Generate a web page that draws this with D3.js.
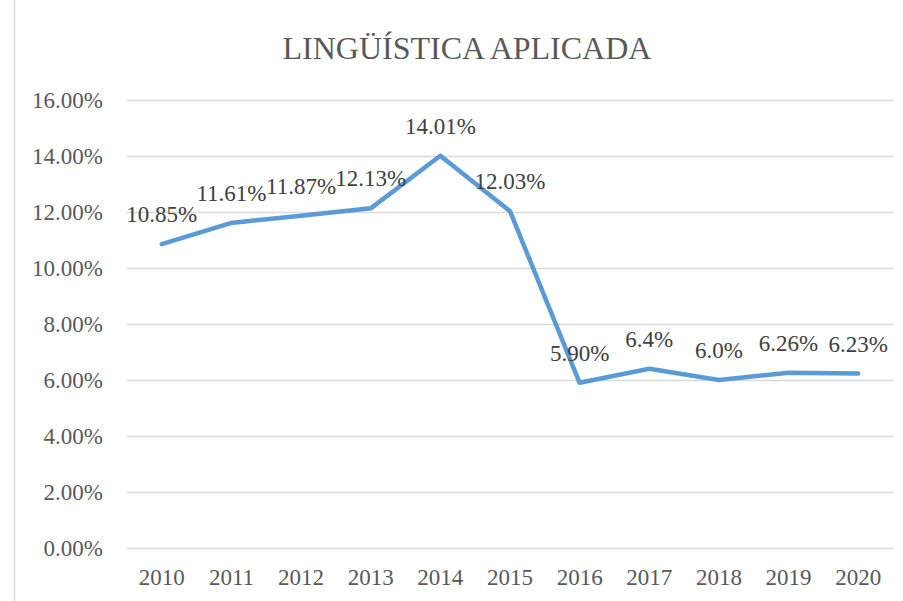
<!DOCTYPE html>
<html><head><meta charset="utf-8">
<script src="https://cdn.jsdelivr.net/npm/d3@7"></script>
<style>body{margin:0;background:#fff}svg{display:block}svg text{font-family:"Liberation Serif","Times New Roman",serif !important}</style>
</head><body>
<svg id="c" width="903" height="601"></svg>
<script>
const title = "LINGÜÍSTICA APLICADA";
const years = ["2010","2011","2012","2013","2014","2015","2016","2017","2018","2019","2020"];
const values = [10.85, 11.61, 11.87, 12.13, 14.01, 12.03, 5.90, 6.4, 6.0, 6.26, 6.23];
const labels = ["10.85%","11.61%","11.87%","12.13%","14.01%","12.03%","5.90%","6.4%","6.0%","6.26%","6.23%"];
const yTicks = [0, 2, 4, 6, 8, 10, 12, 14, 16];

const svg = d3.select("#c");
const pLeft = 127, pRight = 893, pTop = 100, pBottom = 548;

svg.append("line").attr("x1",14.5).attr("x2",14.5).attr("y1",0).attr("y2",601)
  .attr("stroke","#d9d9d9").attr("stroke-width",1.5);

const x = d3.scaleBand().domain(years).range([pLeft, pRight]);
const y = d3.scaleLinear().domain([0,16]).range([pBottom, pTop]);

svg.append("text").attr("x",467).attr("y",59).attr("text-anchor","middle")
  .style("font-size","32px").attr("fill","#595959").text(title);

const grid = svg.append("g");
grid.selectAll("line").data(yTicks).join("line")
  .attr("x1",pLeft).attr("x2",pRight)
  .attr("y1",d=>Math.round(y(d))+0.5).attr("y2",d=>Math.round(y(d))+0.5)
  .attr("stroke","#d9d9d9").attr("stroke-width",1.5);

const yAxis = d3.axisLeft(y).tickValues(yTicks).tickSize(0).tickPadding(0)
  .tickFormat(d=>d.toFixed(2)+"%");
const ya = svg.append("g").attr("transform",`translate(${103},0)`).call(yAxis);
ya.select(".domain").remove();
ya.selectAll("text").style("font-size","23px").attr("fill","#595959").attr("dy","0.32em");

const xAxis = d3.axisBottom(x).tickSize(0).tickPadding(0);
const xa = svg.append("g").attr("transform",`translate(0,${pBottom})`).call(xAxis);
xa.select(".domain").remove();
xa.selectAll("text").style("font-size","23px").attr("fill","#595959").attr("dy",0).attr("y",37);

const cx = d => x(d) + x.bandwidth()/2;
const line = d3.line().x((d,i)=>cx(years[i])).y(d=>y(d));
svg.append("path").datum(values).attr("d",line).attr("fill","none")
  .attr("stroke","#5B9BD5").attr("stroke-width",4.5).attr("stroke-linejoin","round").attr("stroke-linecap","round");

svg.append("g").selectAll("text").data(values).join("text")
  .attr("x",(d,i)=>cx(years[i])).attr("y",d=>y(d)-22)
  .attr("text-anchor","middle").style("font-size","23px")
  .attr("fill","#404040").text((d,i)=>labels[i]);
</script>
</body></html>
